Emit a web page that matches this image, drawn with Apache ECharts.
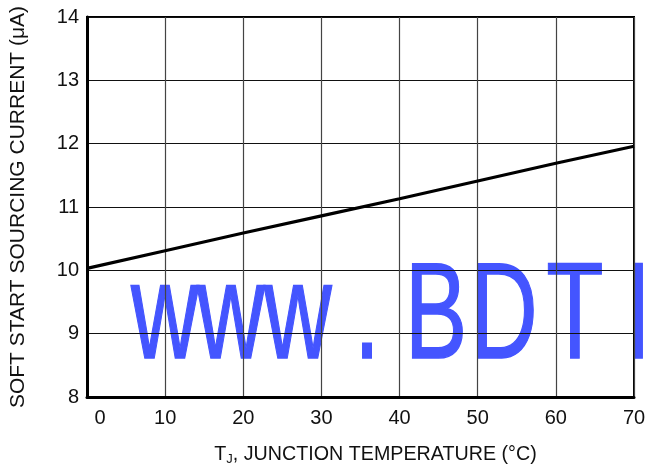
<!DOCTYPE html>
<html>
<head>
<meta charset="utf-8">
<script src="https://cdn.jsdelivr.net/npm/echarts@6/dist/echarts.min.js"></script>
<style>html,body{margin:0;padding:0;background:#fff}#c{width:650px;height:473px}</style>
</head>
<body>
<div id="c"></div>
<script>
const temperatures = [0, 10, 20, 30, 40, 50, 60, 70];
const current = [10.03, 10.31, 10.59, 10.86, 11.13, 11.41, 11.69, 11.96];
const xTicks = [0, 10, 20, 30, 40, 50, 60, 70];
const yTicks = [8, 9, 10, 11, 12, 13, 14];
const watermarkChars = ['w', 'w', 'w', '.', 'B', 'D', 'T', 'I'];
const watermarkCenters = [165, 231, 298, 367, 436, 504, 575, 638];

const chart = echarts.init(document.getElementById('c'), null, {renderer: 'canvas'});
const font = 'Liberation Sans, Arial, Helvetica, sans-serif';

const graphics = watermarkChars.map((ch, i) => ({
  type: 'text',
  z: -10,
  x: watermarkCenters[i],
  y: 251,
  scaleX: 0.68,
  style: {
    text: ch,
    fill: '#4455ff',
    stroke: '#4455ff',
    lineWidth: 1.5,
    font: '138px ' + font,
    textAlign: 'center',
    textVerticalAlign: 'top'
  }
}));

chart.setOption({
  animation: false,
  backgroundColor: '#fff',
  graphic: graphics,
  grid: {left: 87, right: 16, top: 17, bottom: 76, show: true, borderColor: '#000', borderWidth: 2, backgroundColor: 'transparent', z: 5},
  xAxis: {
    type: 'value', min: xTicks[0], max: xTicks[xTicks.length - 1], interval: 10,
    axisLine: {show: true, lineStyle: {color: '#000', width: 3}},
    axisTick: {show: false},
    splitLine: {show: true, lineStyle: {color: '#444', width: 1.2}},
    axisLabel: {
      color: '#111', fontSize: 20, fontFamily: font, margin: 11,
      formatter: v => v === 0 ? '{z|0}' : String(v),
      rich: {z: {fontSize: 20, fontFamily: font, color: '#111', padding: [0, 0, 0, 26]}}
    },
    name: '{a|T}{s|J}{a|, JUNCTION TEMPERATURE (°C)}',
    nameLocation: 'middle', nameGap: 47,
    nameTextStyle: {
      padding: [0, 0, 0, 30],
      rich: {
        a: {fontSize: 19.7, fontFamily: font, color: '#111'},
        s: {fontSize: 13, fontFamily: font, color: '#111', verticalAlign: 'bottom', padding: [9, 0, 0, 0]}
      }
    },
    z: 6
  },
  yAxis: {
    type: 'value', min: yTicks[0], max: yTicks[yTicks.length - 1], interval: 1,
    axisLine: {show: true, lineStyle: {color: '#000', width: 3}},
    axisTick: {show: false},
    splitLine: {show: true, lineStyle: {color: '#111', width: 1.2}},
    axisLabel: {color: '#111', fontSize: 20, fontFamily: font, margin: 8},
    name: 'SOFT START SOURCING CURRENT (μA)',
    nameLocation: 'middle', nameGap: 58, nameRotate: 90,
    nameTextStyle: {fontSize: 21, fontFamily: font, color: '#111'},
    z: 6
  },
  series: [{
    type: 'line',
    data: temperatures.map((t, i) => [t, current[i]]),
    showSymbol: false, symbol: 'none',
    lineStyle: {color: '#000', width: 3.2},
    z: 10
  }]
});
</script>
</body>
</html>
